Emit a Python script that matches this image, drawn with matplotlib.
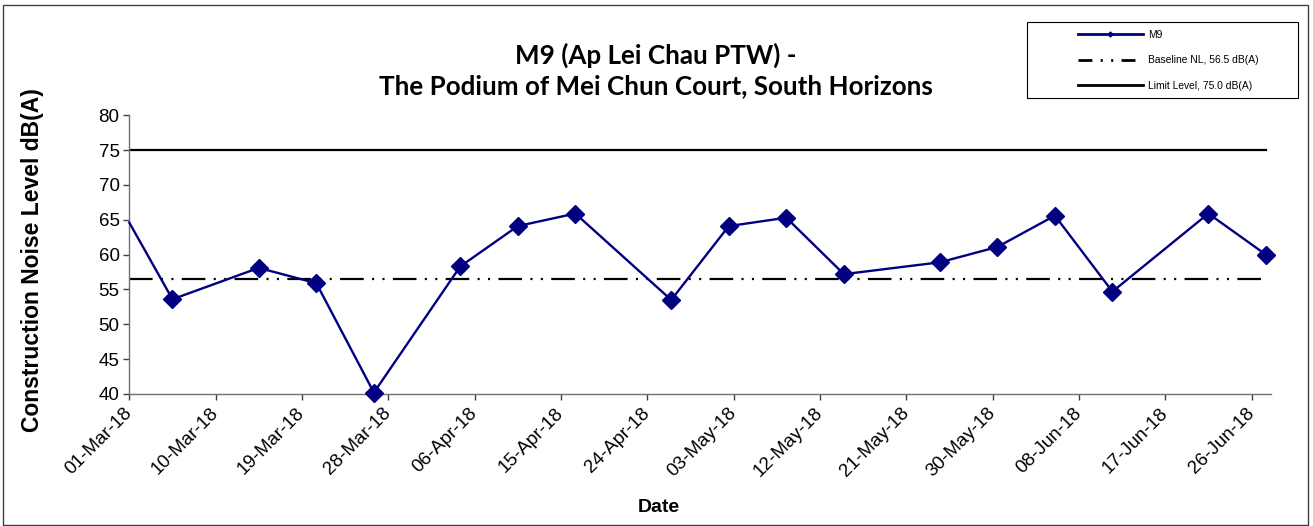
import pandas as pd
import matplotlib
matplotlib.use("Agg")
import matplotlib.pyplot as plt
import matplotlib.dates as mdates
from matplotlib.lines import Line2D
from matplotlib.patches import Rectangle

# data (first entry is where the line enters the axis)
dates = ['2018-03-01 00:00', '2018-03-05 12:00', '2018-03-14 12:00', '2018-03-20 12:00',
         '2018-03-26 12:00', '2018-04-04 12:00', '2018-04-10 12:00', '2018-04-16 12:00',
         '2018-04-26 12:00', '2018-05-02 12:00', '2018-05-08 12:00', '2018-05-14 12:00',
         '2018-05-24 12:00', '2018-05-30 12:00', '2018-06-05 12:00', '2018-06-11 12:00',
         '2018-06-21 12:00', '2018-06-27 12:00']
m9 = [64.6, 53.6, 58.1, 55.9, 40.2, 58.3, 64.1, 65.9, 53.5, 64.1, 65.3, 57.2,
      58.9, 61.1, 65.6, 54.7, 65.9, 60.0]
baseline = 56.5
limit = 75.0
labels = ['M9', 'Baseline NL, 56.5 dB(A)', 'Limit Level, 75.0 dB(A)']

x = pd.to_datetime(dates)
ticks = pd.date_range('2018-03-01', '2018-06-26', freq='9D')

plt.rcParams['font.family'] = ['Liberation Sans', 'DejaVu Sans']
plt.rcParams['lines.scale_dashes'] = False

W, H = 1313, 526
fig = plt.figure(figsize=(W / 100, H / 100), dpi=100)
ax = fig.add_axes([129.3 / W, 1 - 394 / H, (1270.7 - 129.3) / W, (394 - 115.3) / H])

navy = '#000080'
dashdotdot = (0, (17, 6, 1.5, 6, 1.5, 6))

ax.plot(x, [limit] * len(x), color='black', lw=1.6)
ax.plot(x, [baseline] * len(x), color='black', lw=1.6, linestyle=dashdotdot)
ax.plot(x, m9, color=navy, lw=1.7, marker='D', ms=9, markevery=range(1, len(x)),
        clip_on=False, zorder=5)

ax.set_xlim(pd.Timestamp('2018-03-01'), pd.Timestamp('2018-06-28'))
ax.set_ylim(40, 80)
ax.set_yticks(range(40, 81, 5))
ax.set_xticks(ticks)
ax.xaxis.set_major_formatter(mdates.DateFormatter('%d-%b-%y'))

for s in ['top', 'right']:
    ax.spines[s].set_visible(False)
for s in ['left', 'bottom']:
    ax.spines[s].set_color('#707070')
    ax.spines[s].set_linewidth(1.0)

ax.tick_params(axis='both', direction='out', length=4, width=1, color='#404040',
               labelsize=13.5)
ax.tick_params(axis='y', pad=3)
ax.tick_params(axis='x', pad=8)
for lab in ax.get_xticklabels():
    lab.set_rotation(45)
    lab.set_ha('right')
    lab.set_va('center')
    lab.set_rotation_mode('anchor')

# titles and axis labels
fig.text(656 / W, 1 - 70.5 / H, 'M9 (Ap Lei Chau PTW) -\nThe Podium of Mei Chun Court, South Horizons',
         ha='center', va='center', fontsize=18.7, fontweight='bold', family='Lato',
         linespacing=1.33)
fig.text(33 / W, 1 - 260 / H, 'Construction Noise Level dB(A)', rotation=90,
         ha='center', va='center', fontsize=16.5, fontweight='bold')
fig.text(659 / W, 1 - 508 / H, 'Date', ha='center', va='center', fontsize=14,
         fontweight='bold')

# legend with a plain box drawn separately
handles = [Line2D([], [], color=navy, lw=2, marker='D', ms=2.5),
           Line2D([], [], color='black', lw=2, linestyle=(0, (10, 6, 1.5, 6, 1.5, 6))),
           Line2D([], [], color='black', lw=2)]
fig.legend(handles, labels, loc='upper left', bbox_to_anchor=(1078 / W, 1 - 30 / H),
           frameon=False, fontsize=7.4, handlelength=6.3, handletextpad=0.5,
           labelspacing=1.5, borderpad=0, borderaxespad=0, numpoints=1)
fig.patches.append(Rectangle((1027 / W, 1 - 98 / H), (1298 - 1027) / W, (98 - 22) / H,
                             transform=fig.transFigure, fill=False, edgecolor='black', lw=0.8))
# outer chart border
fig.patches.append(Rectangle((3 / W, 1 / H), (1308 - 3) / W, (521 - 1) / H,
                             transform=fig.transFigure, fill=False, edgecolor='#404040', lw=1))

fig.savefig('out.png', dpi=100)
